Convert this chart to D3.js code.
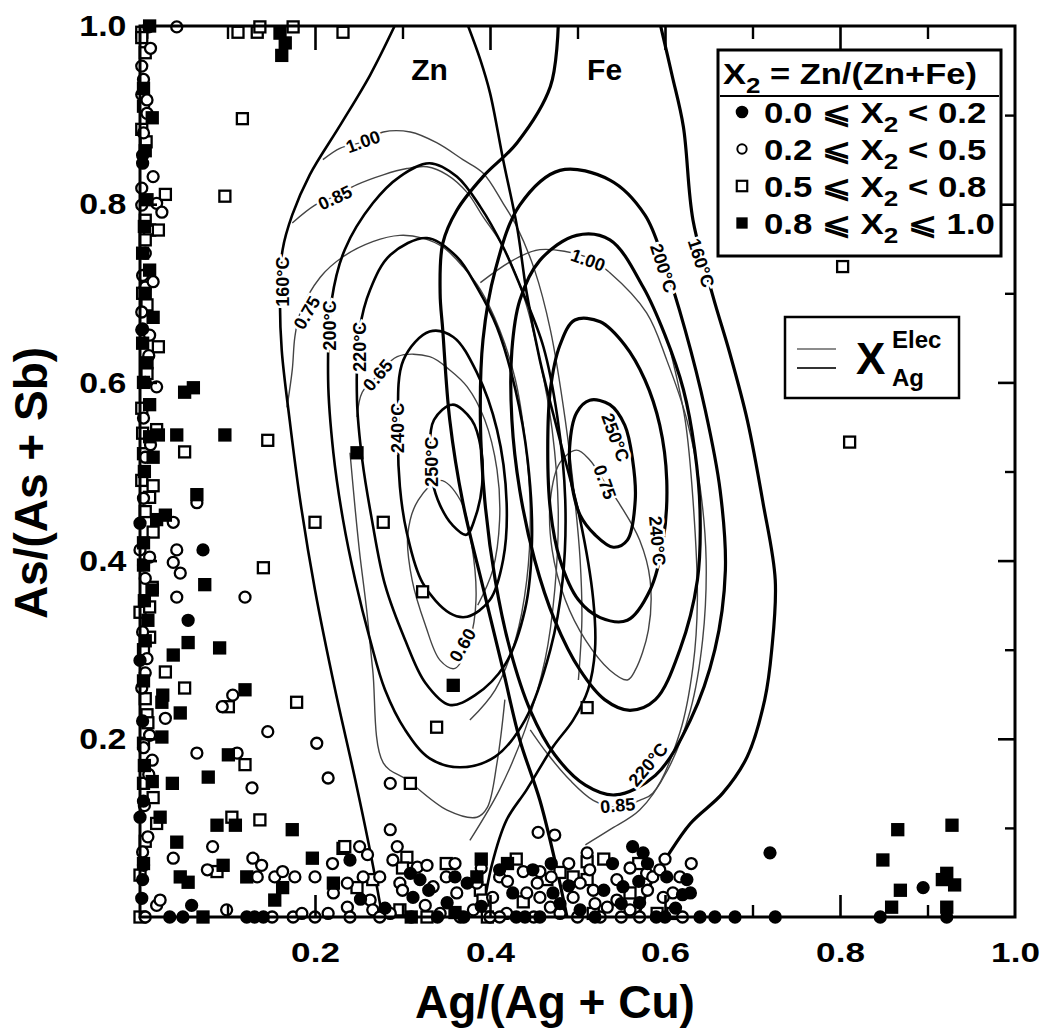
<!DOCTYPE html>
<html><head><meta charset="utf-8">
<script src="https://cdn.jsdelivr.net/npm/d3@7/dist/d3.min.js"></script>
<style>
body{margin:0;background:#fff}
text{font-family:"Liberation Sans",Arial,Helvetica,sans-serif;font-weight:bold;fill:#000}
</style></head>
<body><svg id="chart" width="1042" height="1034"></svg>
<script>
// ---------------- data ----------------
const xTickLabels=[0.2,0.4,0.6,0.8,1.0];
const yTickLabels=[0.2,0.4,0.6,0.8,1.0];
const majorTicks=[0.2,0.4,0.6,0.8];
const minorTicks=[0.1,0.3,0.5,0.7,0.9];
const legendRows=["0.0 ⩽ X|2| < 0.2","0.2 ⩽ X|2| < 0.5","0.5 ⩽ X|2| < 0.8","0.8 ⩽ X|2| ⩽ 1.0"];

// X2 0.0-0.2 (filled circles)
const ptsFilledCircle=[[0.003,0.855],[0.003,0.846],[0.0,0.442],[0.0,0.288],[0.072,0.412],[0.055,0.333],[0.0,0.112],[0.059,0.013],[0.034,0.0],[0.049,0.0],[0.122,0.0],[0.131,0.0],[0.141,0.0],[0.351,0.016],[0.563,0.079],[0.575,0.072],[0.720,0.072],[0.657,0.0],[0.680,0.0],[0.726,0.0],[0.846,0.0],[0.895,0.033],[0.922,0.0],[0.629,0.027],[0.457,0.0],[0.472,0.027],[0.571,0.016],[0.503,0.008],[0.426,0.027],[0.411,0.053],[0.374,0.038],[0.309,0.049],[0.320,0.042],[0.312,0.022],[0.240,0.064],[0.552,0.034],[0.602,0.045],[0.625,0.042],[0.449,0.053],[0.002,0.021],[0.003,0.042],[0.010,0.999],[0.370,0.0],[0.390,0.012],[0.430,0.0],[0.480,0.015],[0.530,0.030],[0.590,0.0],[0.612,0.010],[0.540,0.060],[0.280,0.010],[0.330,0.030],[0.252,0.020],
 [0.003,0.660],[0.004,0.395],[0.003,0.220],[0.004,0.130],[0.340,0.0],[0.360,0.045],[0.440,0.0],[0.470,0.060],[0.490,0.035],[0.520,0.0],[0.550,0.015],[0.570,0.040],[0.620,0.025],[0.640,0.0],[0.600,0.0],[0.580,0.060]];
// X2 0.2-0.5 (open circles)
const ptsOpenCircle=[[0.002,0.955],[0.002,0.923],[0.008,0.917],[0.008,0.902],[0.015,0.831],[0.002,0.818],[0.002,0.799],[0.019,0.801],[0.025,0.791],[0.006,0.707],[0.015,0.713],[0.002,0.679],[0.002,0.659],[0.011,0.653],[0.006,0.600],[0.019,0.595],[0.006,0.516],[0.038,0.443],[0.0,0.412],[0.011,0.404],[0.006,0.274],[0.002,0.257],[0.029,0.223],[0.011,0.204],[0.014,0.176],[0.003,0.073],[0.019,0.013],[0.023,0.019],[0.042,0.999],[0.042,0.412],[0.038,0.398],[0.046,0.386],[0.065,0.465],[0.042,0.359],[0.120,0.359],[0.106,0.249],[0.094,0.236],[0.146,0.208],[0.202,0.195],[0.065,0.184],[0.111,0.184],[0.215,0.156],[0.128,0.145],[0.083,0.079],[0.038,0.066],[0.129,0.066],[0.139,0.058],[0.077,0.053],[0.134,0.045],[0.154,0.045],[0.163,0.051],[0.177,0.045],[0.200,0.045],[0.099,0.008],[0.151,0.0],[0.175,0.0],[0.185,0.004],[0.200,0.0],[0.215,0.004],[0.221,0.027],[0.286,0.098],[0.286,0.150],[0.455,0.095],[0.474,0.092],[0.511,0.072],[0.251,0.079],[0.255,0.045],[0.274,0.045],[0.237,0.038],[0.289,0.064],[0.294,0.079],[0.317,0.056],[0.328,0.058],[0.297,0.038],[0.335,0.034],[0.237,0.011],[0.263,0.019],[0.266,0.008],[0.286,0.004],[0.274,0.0],[0.240,0.0],[0.343,0.004],[0.362,0.027],[0.385,0.038],[0.403,0.022],[0.381,0.008],[0.411,0.045],[0.419,0.004],[0.438,0.051],[0.457,0.051],[0.454,0.038],[0.442,0.027],[0.457,0.022],[0.469,0.011],[0.480,0.004],[0.503,0.038],[0.514,0.053],[0.518,0.030],[0.495,0.022],[0.534,0.011],[0.545,0.042],[0.545,0.019],[0.560,0.008],[0.579,0.049],[0.586,0.045],[0.594,0.053],[0.609,0.027],[0.617,0.045],[0.598,0.022],[0.571,0.0],[0.526,0.0],[0.366,0.0],[0.411,0.0],[0.326,0.013],
 [0.004,0.880],[0.006,0.745],[0.003,0.720],[0.010,0.630],[0.004,0.560],[0.012,0.530],[0.004,0.470],[0.006,0.380],[0.003,0.320],[0.008,0.290],[0.004,0.190],[0.010,0.160],[0.005,0.125],[0.009,0.090],[0.004,0.058],[0.006,0.0],[0.012,0.975],[0.004,0.940],
 [0.220,0.060],[0.260,0.070],[0.300,0.030],[0.310,0.0],[0.350,0.045],[0.360,0.060],[0.390,0.055],[0.400,0.0],[0.420,0.040],[0.450,0.0],[0.470,0.045],[0.490,0.060],[0.500,0.0],[0.520,0.015],[0.550,0.0],[0.560,0.055],[0.580,0.030],[0.620,0.0],[0.630,0.060],[0.600,0.065]];
// X2 0.5-0.8 (open squares)
const ptsOpenSquare=[[0.112,0.993],[0.134,0.993],[0.137,0.999],[0.175,0.999],[0.232,0.993],[0.002,0.993],[0.002,0.987],[0.006,0.970],[0.002,0.884],[0.007,0.870],[0.029,0.811],[0.011,0.771],[0.021,0.771],[0.006,0.782],[0.008,0.687],[0.021,0.640],[0.002,0.571],[0.003,0.543],[0.019,0.547],[0.002,0.490],[0.015,0.484],[0.011,0.471],[0.015,0.432],[0.014,0.370],[0.0,0.342],[0.011,0.348],[0.011,0.314],[0.029,0.275],[0.051,0.257],[0.101,0.236],[0.179,0.241],[0.008,0.227],[0.009,0.218],[0.120,0.171],[0.015,0.134],[0.019,0.105],[0.105,0.112],[0.137,0.109],[0.088,0.051],[0.0,0.047],[0.0,0.0],[0.232,0.077],[0.117,0.896],[0.097,0.809],[0.051,0.522],[0.146,0.535],[0.200,0.443],[0.141,0.392],[0.278,0.443],[0.323,0.365],[0.339,0.213],[0.309,0.150],[0.511,0.235],[0.803,0.730],[0.811,0.533],[0.234,0.079],[0.266,0.042],[0.248,0.033],[0.305,0.067],[0.297,0.008],[0.328,0.0],[0.389,0.030],[0.392,0.019],[0.397,0.0],[0.465,0.042],[0.438,0.017],[0.495,0.045],[0.511,0.042],[0.518,0.004],[0.560,0.027],[0.591,0.004],[0.609,0.004],[0.511,0.062],
 [0.004,0.910],[0.006,0.760],[0.003,0.700],[0.008,0.610],[0.004,0.520],[0.006,0.455],[0.004,0.395],[0.004,0.300],[0.006,0.245],[0.004,0.195],[0.004,0.150],[0.006,0.085],
 [0.350,0.060],[0.430,0.065],[0.480,0.050],[0.530,0.065],[0.570,0.060],[0.300,0.055]];
// X2 0.8-1.0 (filled squares)
const ptsFilledSquare=[[0.160,0.992],[0.166,0.981],[0.162,0.967],[0.011,1.0],[0.014,0.897],[0.008,0.805],[0.003,0.745],[0.011,0.726],[0.015,0.673],[0.003,0.644],[0.008,0.622],[0.011,0.575],[0.011,0.539],[0.021,0.541],[0.015,0.516],[0.019,0.446],[0.029,0.451],[0.014,0.367],[0.009,0.333],[0.025,0.241],[0.026,0.249],[0.025,0.202],[0.014,0.152],[0.023,0.112],[0.051,0.589],[0.061,0.594],[0.042,0.541],[0.097,0.541],[0.065,0.474],[0.074,0.373],[0.055,0.308],[0.091,0.302],[0.038,0.294],[0.120,0.255],[0.046,0.229],[0.101,0.182],[0.078,0.157],[0.037,0.150],[0.088,0.103],[0.109,0.103],[0.174,0.098],[0.042,0.084],[0.197,0.066],[0.095,0.058],[0.122,0.045],[0.046,0.045],[0.055,0.039],[0.163,0.033],[0.154,0.019],[0.221,0.038],[0.248,0.521],[0.358,0.260],[0.385,0.045],[0.866,0.098],[0.849,0.064],[0.928,0.103],[0.869,0.030],[0.859,0.011],[0.922,0.049],[0.931,0.036],[0.917,0.042],[0.922,0.011],[0.072,0.0],
 [0.004,0.930],[0.006,0.860],[0.005,0.775],[0.006,0.700],[0.004,0.600],[0.005,0.500],[0.004,0.420],[0.005,0.355],[0.006,0.310],[0.004,0.265],[0.005,0.170],[0.004,0.060],
 [0.360,0.005],[0.420,0.060],[0.310,0.0],[0.390,0.065]];

// ---- isotherms (thick) and X_Ag^Elec contours (thin), in data units ----
const zn160L=[[0.291,1.0],[0.263,0.945],[0.229,0.889],[0.194,0.833],[0.174,0.788],[0.163,0.749],[0.160,0.692],[0.162,0.636],[0.171,0.558],[0.183,0.468],[0.200,0.367],[0.223,0.255],[0.246,0.154],[0.265,0.064],[0.277,0.0]];
const zn160R=[[0.375,1.0],[0.389,0.962],[0.400,0.925],[0.415,0.850],[0.431,0.774],[0.442,0.700],[0.457,0.625],[0.480,0.535],[0.503,0.446],[0.518,0.356],[0.520,0.300],[0.512,0.255],[0.495,0.221],[0.472,0.191],[0.442,0.143],[0.419,0.109],[0.402,0.058],[0.391,0.0]];
const zn200=[[0.331,0.846],[0.362,0.831],[0.389,0.797],[0.415,0.752],[0.438,0.700],[0.461,0.640],[0.477,0.561],[0.486,0.468],[0.483,0.378],[0.469,0.300],[0.440,0.221],[0.406,0.180],[0.366,0.168],[0.331,0.178],[0.303,0.210],[0.280,0.255],[0.263,0.311],[0.246,0.378],[0.232,0.446],[0.221,0.521],[0.215,0.603],[0.219,0.692],[0.234,0.749],[0.266,0.801],[0.297,0.831]];
const zn220=[[0.328,0.762],[0.362,0.741],[0.385,0.707],[0.408,0.662],[0.429,0.592],[0.443,0.513],[0.448,0.423],[0.440,0.345],[0.417,0.283],[0.383,0.249],[0.354,0.238],[0.326,0.263],[0.303,0.311],[0.280,0.373],[0.265,0.446],[0.254,0.513],[0.248,0.580],[0.251,0.659],[0.263,0.704],[0.286,0.743]];
const zn240=[[0.331,0.657],[0.358,0.651],[0.385,0.611],[0.408,0.547],[0.419,0.465],[0.415,0.401],[0.400,0.356],[0.374,0.337],[0.354,0.341],[0.323,0.375],[0.305,0.431],[0.297,0.483],[0.295,0.547],[0.301,0.625]];
const zn250=[[0.357,0.575],[0.379,0.558],[0.390,0.524],[0.391,0.485],[0.384,0.451],[0.373,0.429],[0.357,0.440],[0.343,0.462],[0.334,0.490],[0.331,0.524],[0.336,0.558]];
const znX100=[[0.209,0.850],[0.229,0.863],[0.255,0.870],[0.278,0.881],[0.309,0.881],[0.339,0.869],[0.369,0.850],[0.392,0.835],[0.415,0.801],[0.431,0.774],[0.451,0.726],[0.469,0.659],[0.486,0.558],[0.497,0.468],[0.503,0.401],[0.505,0.333],[0.501,0.266]];
const znX085=[[0.174,0.779],[0.200,0.799],[0.223,0.809],[0.248,0.822],[0.278,0.833],[0.305,0.840],[0.328,0.842],[0.351,0.833],[0.374,0.813],[0.392,0.786],[0.415,0.752],[0.440,0.692],[0.457,0.625],[0.471,0.547],[0.478,0.457],[0.474,0.367],[0.463,0.289],[0.440,0.210],[0.411,0.143],[0.377,0.086]];
const znX075=[[0.168,0.572],[0.174,0.614],[0.177,0.651],[0.183,0.678],[0.206,0.718],[0.232,0.741],[0.266,0.758],[0.297,0.765],[0.323,0.762],[0.346,0.752],[0.369,0.730],[0.389,0.704],[0.411,0.659],[0.429,0.603],[0.440,0.536],[0.446,0.457],[0.442,0.378],[0.429,0.311],[0.406,0.255],[0.377,0.221]];
const znX065=[[0.248,0.561],[0.254,0.589],[0.272,0.608],[0.294,0.629],[0.331,0.629],[0.354,0.614],[0.374,0.595],[0.394,0.558],[0.408,0.502],[0.411,0.446],[0.403,0.389],[0.386,0.350]];
const znX065b=[[0.240,0.521],[0.246,0.457],[0.251,0.409],[0.259,0.345],[0.266,0.277],[0.278,0.173],[0.305,0.154],[0.351,0.120],[0.385,0.112],[0.397,0.123],[0.408,0.173],[0.417,0.244]];
const znX060=[[0.343,0.490],[0.366,0.468],[0.379,0.418],[0.384,0.356],[0.377,0.311],[0.360,0.279],[0.343,0.288],[0.326,0.328],[0.311,0.378],[0.306,0.429],[0.318,0.468]];

const fe160L=[[0.478,1.0],[0.469,0.932],[0.431,0.869],[0.392,0.831],[0.362,0.793],[0.346,0.756],[0.343,0.700],[0.346,0.659],[0.354,0.558],[0.369,0.465],[0.392,0.370],[0.415,0.277],[0.434,0.199],[0.457,0.131],[0.474,0.064],[0.488,0.0]];
const fe160R=[[0.595,1.0],[0.608,0.945],[0.621,0.887],[0.632,0.782],[0.655,0.696],[0.674,0.633],[0.694,0.558],[0.712,0.465],[0.726,0.378],[0.722,0.300],[0.714,0.244],[0.694,0.180],[0.666,0.139],[0.629,0.105],[0.602,0.067],[0.583,0.036],[0.569,0.0]];
const fe200=[[0.480,0.838],[0.537,0.827],[0.577,0.788],[0.600,0.732],[0.623,0.659],[0.646,0.569],[0.663,0.479],[0.669,0.389],[0.657,0.300],[0.629,0.221],[0.589,0.159],[0.543,0.137],[0.509,0.148],[0.474,0.182],[0.446,0.232],[0.423,0.300],[0.406,0.378],[0.394,0.468],[0.389,0.558],[0.392,0.648],[0.406,0.726],[0.434,0.799]];
const fe220=[[0.499,0.765],[0.537,0.760],[0.575,0.707],[0.600,0.653],[0.621,0.592],[0.634,0.524],[0.640,0.457],[0.637,0.378],[0.617,0.300],[0.589,0.244],[0.560,0.232],[0.531,0.244],[0.503,0.277],[0.474,0.333],[0.451,0.401],[0.434,0.479],[0.425,0.558],[0.425,0.636],[0.434,0.692],[0.457,0.737]];
const fe240=[[0.497,0.670],[0.526,0.668],[0.554,0.642],[0.577,0.603],[0.594,0.552],[0.602,0.490],[0.598,0.423],[0.583,0.367],[0.557,0.333],[0.526,0.336],[0.501,0.356],[0.480,0.401],[0.469,0.457],[0.466,0.524],[0.469,0.592],[0.480,0.642]];
const fe250=[[0.514,0.580],[0.537,0.575],[0.554,0.552],[0.563,0.513],[0.566,0.468],[0.557,0.423],[0.541,0.415],[0.520,0.429],[0.503,0.451],[0.494,0.483],[0.491,0.527],[0.499,0.566]];
const feX100=[[0.389,0.712],[0.426,0.737],[0.457,0.749],[0.512,0.740],[0.537,0.723],[0.579,0.678],[0.602,0.625],[0.625,0.558],[0.640,0.483],[0.647,0.401],[0.643,0.311],[0.629,0.232],[0.603,0.165],[0.571,0.120],[0.537,0.098],[0.509,0.081]];
const feX085=[[0.446,0.210],[0.465,0.184],[0.491,0.154],[0.518,0.131],[0.546,0.123],[0.571,0.131],[0.586,0.139],[0.617,0.207],[0.632,0.281],[0.637,0.356],[0.632,0.468],[0.623,0.558],[0.606,0.636]];
const feX075=[[0.480,0.510],[0.499,0.524],[0.514,0.513],[0.531,0.488],[0.549,0.462],[0.571,0.423],[0.583,0.378],[0.581,0.322],[0.566,0.277],[0.557,0.266],[0.537,0.277],[0.509,0.311],[0.486,0.356],[0.471,0.412],[0.469,0.468]];

const contourLabels=[
 ["160°C",0.163,0.713,-90],["200°C",0.217,0.664,-90],["220°C",0.251,0.640,-90],["240°C",0.295,0.549,-90],["250°C",0.334,0.511,-90],
 ["1.00",0.255,0.870,-20],["0.85",0.223,0.807,-25],["0.75",0.191,0.678,-60],["0.65",0.272,0.608,-50],["0.60",0.369,0.305,-60],
 ["200°C",0.598,0.728,72],["160°C",0.641,0.734,72],["1.00",0.512,0.737,20],["250°C",0.543,0.538,70],["0.75",0.531,0.488,70],
 ["240°C",0.591,0.422,85],["220°C",0.581,0.171,-50],["0.85",0.546,0.125,-5]];
const setLabels=[["Zn",0.331,0.939],["Fe",0.531,0.939]];

// ---------------- drawing ----------------
const svg=d3.select("#chart");
const L=140,R=1015,T=26,B=917;
const x=d3.scaleLinear().domain([0,1]).range([L,R]);
const y=d3.scaleLinear().domain([0,1]).range([B,T]);

const g=svg.append("g");
const openLine=d3.line().x(d=>x(d[0])).y(d=>y(d[1])).curve(d3.curveCatmullRom.alpha(0.5));
const closedLine=d3.line().x(d=>x(d[0])).y(d=>y(d[1])).curve(d3.curveCatmullRomClosed.alpha(0.5));

svg.append("clipPath").attr("id","pa").append("rect").attr("x",L).attr("y",T).attr("width",R-L).attr("height",B-T);
const cg=g.append("g").attr("clip-path","url(#pa)");

const thin={stroke:"#444",w:1.4};
const znThick={stroke:"#000",w:2.6};
const feThick={stroke:"#000",w:3.2};
const curves=[
 [znX100,false,thin],[znX085,false,thin],[znX075,false,thin],[znX065,false,thin],[znX065b,false,thin],[znX060,true,thin],
 [feX100,false,thin],[feX085,false,thin],[feX075,true,thin],
 [zn160L,false,znThick],[zn160R,false,znThick],[zn200,true,znThick],[zn220,true,znThick],[zn240,true,znThick],[zn250,true,znThick],
 [fe160L,false,feThick],[fe160R,false,feThick],[fe200,true,feThick],[fe220,true,feThick],[fe240,true,feThick],[fe250,true,feThick]];
curves.forEach(([pts,closed,st])=>{
  cg.append("path").attr("d",(closed?closedLine:openLine)(pts))
    .attr("fill","none").attr("stroke",st.stroke).attr("stroke-width",st.w).attr("stroke-linejoin","round");
});

// contour labels with white halo
contourLabels.forEach(([t,a,b,ang])=>{
  g.append("text").attr("transform",`translate(${x(a)},${y(b)}) rotate(${ang})`)
   .attr("text-anchor","middle").attr("dominant-baseline","central")
   .style("font-size","18px").style("paint-order","stroke").attr("stroke","#fff").attr("stroke-width",5)
   .text(t);
});
setLabels.forEach(([t,a,b])=>{
  g.append("text").attr("x",x(a)).attr("y",y(b)).attr("text-anchor","middle").style("font-size","30px").text(t);
});

// points
const ms=11;
function drawSym(sel,type){
  if(type==="fc"||type==="oc"){
    sel.append("circle").attr("r",5.5).attr("fill",type==="fc"?"#000":"#fff").attr("stroke","#000").attr("stroke-width",2.3);
  } else {
    sel.append("rect").attr("x",-ms/2).attr("y",-ms/2).attr("width",ms).attr("height",ms)
      .attr("fill",type==="fs"?"#000":"#fff").attr("stroke","#000").attr("stroke-width",2.3);
  }
}
const pg=g.append("g");
[[ptsOpenSquare,"os"],[ptsOpenCircle,"oc"],[ptsFilledSquare,"fs"],[ptsFilledCircle,"fc"]].forEach(([arr,type])=>{
  arr.forEach(p=>{ const s=pg.append("g").attr("transform",`translate(${x(p[0])},${y(p[1])})`); drawSym(s,type); });
});

// frame
g.append("rect").attr("x",L).attr("y",T).attr("width",R-L).attr("height",B-T).attr("fill","none").attr("stroke","#000").attr("stroke-width",3);

// axes (inward ticks)
function styleAx(a,w){a.select(".domain").remove();a.selectAll(".tick line").attr("stroke","#000").attr("stroke-width",w);}
styleAx(g.append("g").attr("transform",`translate(0,${B})`).call(d3.axisBottom(x).tickValues(majorTicks).tickSize(-22).tickFormat("")),2.6);
styleAx(g.append("g").attr("transform",`translate(0,${B})`).call(d3.axisBottom(x).tickValues(minorTicks).tickSize(-12).tickFormat("")),2.4);
styleAx(g.append("g").attr("transform",`translate(0,${T})`).call(d3.axisTop(x).tickValues(majorTicks).tickSize(-24).tickFormat("")),2.6);
styleAx(g.append("g").attr("transform",`translate(0,${T})`).call(d3.axisTop(x).tickValues(minorTicks).tickSize(-13).tickFormat("")),2.4);
styleAx(g.append("g").attr("transform",`translate(${R},0)`).call(d3.axisRight(y).tickValues(majorTicks).tickSize(-17).tickFormat("")),2.6);
styleAx(g.append("g").attr("transform",`translate(${R},0)`).call(d3.axisRight(y).tickValues(minorTicks).tickSize(-10).tickFormat("")),2.4);
styleAx(g.append("g").attr("transform",`translate(${L},0)`).call(d3.axisLeft(y).tickValues(majorTicks).tickSize(-17).tickFormat("")),2.6);
// tick labels
const xl=g.append("g").attr("transform",`translate(0,${B})`).call(d3.axisBottom(x).tickValues(xTickLabels).tickSize(0).tickPadding(26).tickFormat(d3.format(".1f")));
xl.select(".domain").remove();
xl.selectAll("text").style("font-size","27px").attr("fill","#000").attr("transform","scale(1.3,1)");
const yl=g.append("g").attr("transform",`translate(${L},0)`).call(d3.axisLeft(y).tickValues(yTickLabels).tickSize(0).tickPadding(12).tickFormat(d3.format(".1f")));
yl.select(".domain").remove();
yl.selectAll("text").style("font-size","30px").attr("fill","#000").attr("transform","scale(1.13,1)");
g.selectAll(".tick text").attr("font-family",null).attr("font-weight",null);

// axis titles
g.append("text").attr("x",555).attr("y",1018).attr("text-anchor","middle").style("font-size","46px").text("Ag/(Ag + Cu)");
g.append("text").attr("transform","translate(47,483) rotate(-90)").attr("text-anchor","middle").style("font-size","46px").text("As/(As + Sb)");

// legend 1
const lg=g.append("g");
lg.append("rect").attr("x",718).attr("y",50).attr("width",283).attr("height",206).attr("fill","#fff").attr("stroke","#000").attr("stroke-width",3);
lg.append("line").attr("x1",720).attr("x2",999).attr("y1",96).attr("y2",96).attr("stroke","#000").attr("stroke-width",2);
function richText(parent,str,xx,yy,fs,sx){
  const t=parent.append("text").attr("transform",`translate(${xx},${yy}) scale(${sx},1)`).style("font-size",fs+"px");
  str.split("|").forEach((part,i)=>{
    if(i%2===1) t.append("tspan").attr("dy",9).style("font-size",(fs*0.75)+"px").text(part);
    else t.append("tspan").attr("dy",i===0?0:-9).text(part);
  });
  return t;
}
richText(lg,"X|2| = Zn/(Zn+Fe)",723,84,30,1.15);
const types=["fc","oc","os","fs"];
legendRows.forEach((r,i)=>{
  const yy=123+i*37;
  const s=lg.append("g").attr("transform",`translate(742,${yy-11}) scale(${i%2===1?0.85:0.95})`); drawSym(s,types[i]);
  richText(lg,r,764,yy,30,1.16);
});

// legend 2
const l2=g.append("g");
l2.append("rect").attr("x",785).attr("y",317).attr("width",174).attr("height",81).attr("fill","#fff").attr("stroke","#000").attr("stroke-width",2.5);
l2.append("line").attr("x1",797).attr("x2",836).attr("y1",349).attr("y2",349).attr("stroke","#666").attr("stroke-width",1.3);
l2.append("line").attr("x1",797).attr("x2",836).attr("y1",368).attr("y2",368).attr("stroke","#333").attr("stroke-width",2);
l2.append("text").attr("x",856).attr("y",374).style("font-size","44px").text("X");
l2.append("text").attr("x",892).attr("y",348).style("font-size","24px").text("Elec");
l2.append("text").attr("x",892).attr("y",386).style("font-size","24px").text("Ag");
</script></body></html>
